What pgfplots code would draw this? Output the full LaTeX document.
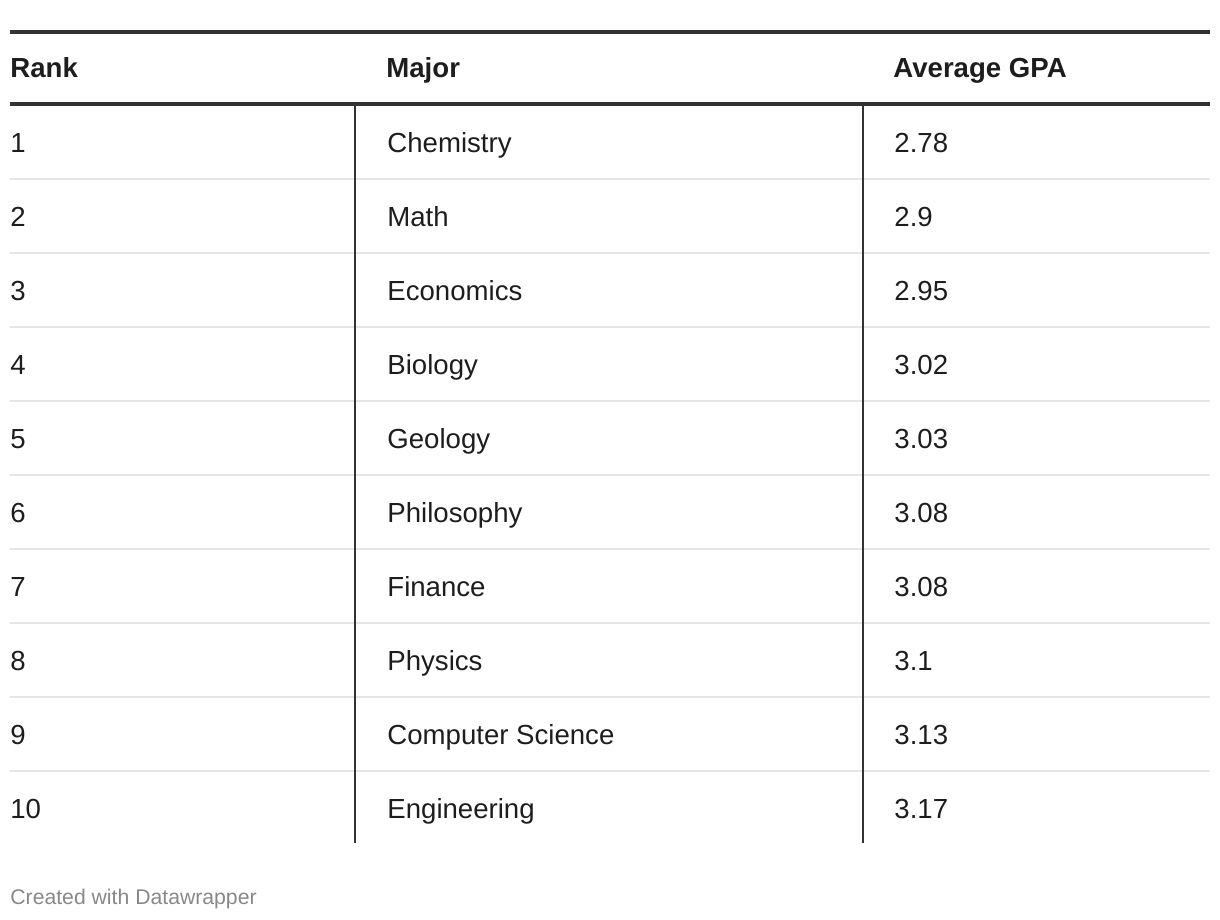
\documentclass[border=0pt]{standalone}
\usepackage{pgfplots}
\pgfplotsset{compat=1.18}
\usepackage{pgfplotstable}
\usepackage{fontspec}
\setmainfont{Liberation Sans}
\definecolor{rule}{HTML}{333333}
\definecolor{sep}{HTML}{E6E6E6}
\definecolor{txt}{HTML}{1D1D1D}
\definecolor{foot}{HTML}{888888}
\newcommand{\body}{\fontsize{13.8}{16}\selectfont}
\newcommand{\head}{\fontsize{13.8}{16}\selectfont\bfseries}
\newcommand{\foot}{\fontsize{10.6}{13}\selectfont}

\pgfplotstableread[col sep=comma]{
y,rank,major,gpa
152,1,Chemistry,2.78
226,2,Math,2.9
300,3,Economics,2.95
374,4,Biology,3.02
448,5,Geology,3.03
522,6,Philosophy,3.08
596,7,Finance,3.08
670,8,Physics,3.1
744,9,Computer Science,3.13
818,10,Engineering,3.17
}\gpatable

\pgfplotstableread[col sep=comma]{
x,y,t
10,78,Rank
386,78,Major
893,78,Average GPA
}\headtable

\begin{document}
\begin{tikzpicture}
\begin{axis}[
  width=610pt, height=460pt, scale only axis,
  xmin=0, xmax=1220, ymin=0, ymax=920,
  y dir=reverse, hide axis, clip=false,
]
% invisible frame
\addplot[draw=none] coordinates {(0,0) (1220,920)};
% light row separators
\pgfplotsinvokeforeach{179,253,327,401,475,549,623,697,771}{
  \addplot[sep, line width=1pt] coordinates {(10,#1) (1210,#1)};
}
% vertical column rules
\addplot[rule, line width=1pt] coordinates {(355,104) (355,843)};
\addplot[rule, line width=1pt] coordinates {(863,104) (863,843)};
% thick top and header rules
\addplot[rule, line width=2pt] coordinates {(10,32) (1210,32)};
\addplot[rule, line width=2pt] coordinates {(10,104) (1210,104)};
% header
\addplot[only marks, mark=none, nodes near coords, point meta=explicit symbolic,
  nodes near coords style={anchor=base west, inner sep=0pt, font=\head, text=txt}]
  table[x=x, y=y, meta=t] {\headtable};
% body columns
\addplot[only marks, mark=none, nodes near coords, point meta=explicit symbolic,
  nodes near coords style={anchor=base west, inner sep=0pt, font=\body, text=txt}]
  table[x expr=10, y=y, meta=rank] {\gpatable};
\addplot[only marks, mark=none, nodes near coords, point meta=explicit symbolic,
  nodes near coords style={anchor=base west, inner sep=0pt, font=\body, text=txt}]
  table[x expr=387, y=y, meta=major] {\gpatable};
\addplot[only marks, mark=none, nodes near coords, point meta=explicit symbolic,
  nodes near coords style={anchor=base west, inner sep=0pt, font=\body, text=txt}]
  table[x expr=894, y=y, meta=gpa] {\gpatable};
% footer
\addplot[only marks, mark=none, nodes near coords, point meta=explicit symbolic,
  nodes near coords style={anchor=base west, inner sep=0pt, font=\foot, text=foot}]
  coordinates {(10,904) [Created with Datawrapper]};
\end{axis}
\end{tikzpicture}
\end{document}
